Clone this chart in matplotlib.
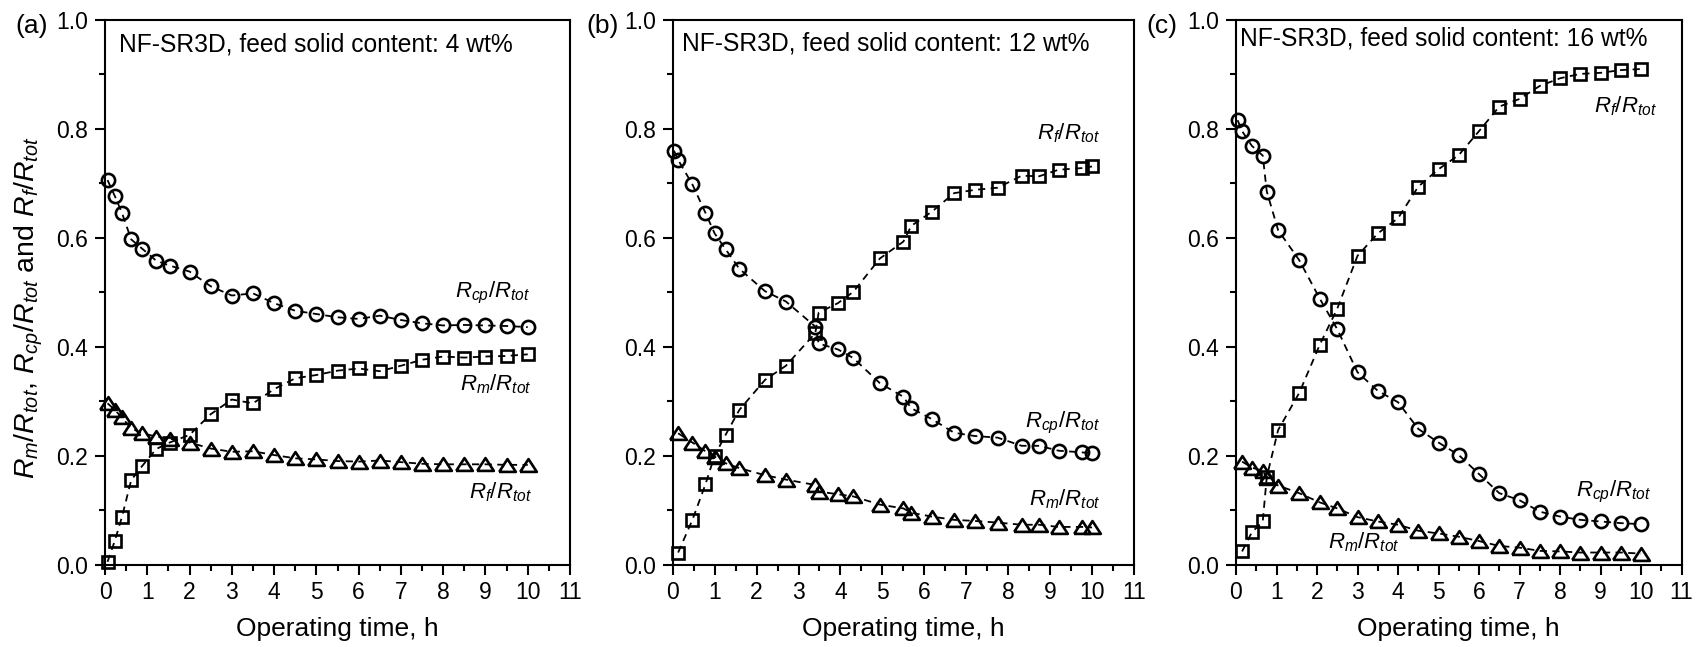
import matplotlib
matplotlib.use("Agg")
import matplotlib.pyplot as plt
from matplotlib.ticker import MultipleLocator

plt.rcParams['font.family'] = ['Liberation Sans', 'DejaVu Sans']
plt.rcParams['mathtext.fontset'] = 'custom'
plt.rcParams['mathtext.it'] = 'Liberation Sans:italic'
plt.rcParams['mathtext.rm'] = 'Liberation Sans'
plt.rcParams['mathtext.sf'] = 'Liberation Sans'

# ---------------- data ----------------
# (a) 4 wt%
ta = [0.06, 0.23, 0.40, 0.62, 0.88, 1.21, 1.53, 2.0, 2.5, 3.0, 3.5, 4.0,
      4.5, 5.0, 5.5, 6.0, 6.5, 7.0, 7.5, 8.0, 8.5, 9.0, 9.5, 10.0]
a_circ = [0.706, 0.677, 0.646, 0.597, 0.580, 0.558, 0.549, 0.538, 0.511, 0.494,
          0.498, 0.480, 0.466, 0.460, 0.454, 0.451, 0.457, 0.449, 0.443, 0.439,
          0.440, 0.439, 0.438, 0.436]
a_sq = [0.005, 0.043, 0.087, 0.155, 0.181, 0.212, 0.224, 0.238, 0.276, 0.303,
        0.296, 0.322, 0.342, 0.348, 0.356, 0.360, 0.355, 0.365, 0.376, 0.382,
        0.380, 0.382, 0.383, 0.386]
a_tri = [0.296, 0.284, 0.270, 0.250, 0.241, 0.235, 0.231, 0.224, 0.213, 0.207,
         0.208, 0.201, 0.195, 0.193, 0.190, 0.189, 0.191, 0.188, 0.185, 0.184,
         0.184, 0.184, 0.183, 0.183]

# (b) 12 wt%
tb = [0.13, 0.47, 0.78, 1.0, 1.26, 1.59, 2.2, 2.7, 3.4, 3.48, 3.94, 4.31,
      4.94, 5.5, 5.69, 6.18, 6.71, 7.2, 7.75, 8.32, 8.74, 9.2, 9.75, 10.0]
tb_circ = [0.03] + tb
b_circ = [0.760, 0.743, 0.698, 0.646, 0.608, 0.579, 0.543, 0.502, 0.483, 0.437,
          0.406, 0.395, 0.379, 0.333, 0.308, 0.287, 0.267, 0.242, 0.236, 0.233,
          0.218, 0.218, 0.209, 0.206, 0.204]
b_sq = [0.022, 0.082, 0.147, 0.200, 0.238, 0.284, 0.339, 0.365, 0.425, 0.4625,
        0.480, 0.501, 0.562, 0.593, 0.622, 0.648, 0.682, 0.688, 0.692, 0.714,
        0.713, 0.725, 0.728, 0.731]
b_tri = [0.241, 0.224, 0.208, 0.198, 0.186, 0.177, 0.164, 0.156, 0.146, 0.134,
         0.129, 0.125, 0.110, 0.103, 0.095, 0.088, 0.082, 0.080, 0.077, 0.073,
         0.073, 0.069, 0.069, 0.068]

# (c) 16 wt%
tc = [0.04, 0.15, 0.39, 0.66, 0.76, 1.04, 1.56, 2.07, 2.5, 3.0, 3.5, 4.0,
      4.5, 5.0, 5.5, 6.0, 6.5, 7.0, 7.5, 8.0, 8.5, 9.0, 9.5, 10.0]
c_circ = [0.816, 0.796, 0.769, 0.751, 0.685, 0.614, 0.559, 0.488, 0.432, 0.353,
          0.319, 0.298, 0.249, 0.224, 0.201, 0.166, 0.131, 0.118, 0.097, 0.088,
          0.082, 0.079, 0.076, 0.074]
c_sq = [0.024, 0.059, 0.079, 0.161, 0.247, 0.315, 0.404, 0.470, 0.567, 0.608,
        0.636, 0.694, 0.726, 0.752, 0.796, 0.841, 0.855, 0.879, 0.893, 0.901,
        0.903, 0.908, 0.910]
c_tri = [0.189, 0.178, 0.172, 0.158, 0.145, 0.131, 0.114, 0.103, 0.087, 0.079,
         0.073, 0.062, 0.057, 0.051, 0.043, 0.034, 0.031, 0.025, 0.024, 0.022,
         0.022, 0.022, 0.020]

titles = ["NF-SR3D, feed solid content: 4 wt%",
          "NF-SR3D, feed solid content: 12 wt%",
          "NF-SR3D, feed solid content: 16 wt%"]
panel_tags = ["(a)", "(b)", "(c)"]
x_ticks = list(range(0, 12))
y_ticks = [0.0, 0.2, 0.4, 0.6, 0.8, 1.0]

LBL_CP = r'$R_{cp}/R_{tot}$'
LBL_M = r'$R_m/R_{tot}$'
LBL_F = r'$R_f/R_{tot}$'

# ---------------- figure ----------------
W, H = 1696, 647
fig = plt.figure(figsize=(W / 100, H / 100), dpi=100)

boxes = [(105, 570), (672.7, 1134), (1236, 1681.6)]
tag_x = [15, 586, 1146]
top_px, bot_px = 20, 564.5

tri = [(-1.3, -1.0), (1.3, -1.0), (0.0, 1.0), (-1.3, -1.0)]
dash = (0, (4, 3))
LFS = 16      # curve label size
TFS = 17.7    # panel heading size

def series(ax, t, y, marker, ms):
    ax.plot(t, y, ls=dash, color='k', lw=1.3, marker=marker, ms=ms,
            mfc='none', mec='k', mew=1.9, clip_on=False, zorder=3)

axes = []
for i, (l, r) in enumerate(boxes):
    ax = fig.add_axes([l / W, (H - bot_px) / H, (r - l) / W, (bot_px - top_px) / H])
    axes.append(ax)
    ax.set_xlim(0, 11)
    ax.set_ylim(0, 1.0)
    ax.set_xticks(x_ticks)
    ax.set_yticks(y_ticks)
    ax.set_yticklabels([f"{v:.1f}" for v in y_ticks])
    ax.xaxis.set_minor_locator(MultipleLocator(0.5))
    ax.yaxis.set_minor_locator(MultipleLocator(0.1))
    ax.tick_params(which='both', direction='out', top=False, right=False,
                   labelsize=16.5, width=1.5)
    ax.tick_params(which='major', length=7, pad=5)
    ax.tick_params(which='minor', length=4)
    for s in ax.spines.values():
        s.set_linewidth(1.5)
    ax.set_xlabel("Operating time, h", fontsize=19, labelpad=9)
    fig.text(tag_x[i] / W, 1 - 26 / H, panel_tags[i], fontsize=19,
             ha='left', va='center')

# panel (a)
ax = axes[0]
series(ax, ta, a_circ, 'o', 9.5)
series(ax, ta, a_sq, 's', 8.5)
series(ax, ta, a_tri, tri, 12)
ax.text(0.031, 0.942, titles[0], transform=ax.transAxes, fontsize=TFS, va='baseline')
ax.text(10.05, 0.49, LBL_CP, fontsize=LFS, ha='right', va='baseline')
ax.text(10.1, 0.319, LBL_M, fontsize=LFS, ha='right', va='baseline')
ax.text(10.1, 0.122, LBL_F, fontsize=LFS, ha='right', va='baseline')

# panel (b)
ax = axes[1]
series(ax, tb_circ, b_circ, 'o', 9.5)
series(ax, tb, b_sq, 's', 8.5)
series(ax, tb, b_tri, tri, 12)
ax.text(0.020, 0.944, titles[1], transform=ax.transAxes, fontsize=TFS, va='baseline')
ax.text(10.2, 0.78, LBL_F, fontsize=LFS, ha='right', va='baseline')
ax.text(10.2, 0.252, LBL_CP, fontsize=LFS, ha='right', va='baseline')
ax.text(10.2, 0.109, LBL_M, fontsize=LFS, ha='right', va='baseline')

# panel (c)
ax = axes[2]
series(ax, tc, c_circ, 'o', 9.5)
series(ax, tc[1:], c_sq, 's', 8.5)
series(ax, tc[1:], c_tri, tri, 12)
ax.text(0.009, 0.954, titles[2], transform=ax.transAxes, fontsize=TFS, va='baseline')
ax.text(10.4, 0.830, LBL_F, fontsize=LFS, ha='right', va='baseline')
ax.text(10.26, 0.1245, LBL_CP, fontsize=LFS, ha='right', va='baseline')
ax.text(2.27, 0.030, LBL_M, fontsize=LFS, ha='left', va='baseline')

# shared y-axis title on the first panel
fig.text(29 / W, 1 - 308 / H,
         r'$R_m/R_{tot}$, $R_{cp}/R_{tot}$ and $R_f/R_{tot}$',
         rotation=90, fontsize=20.5, ha='center', va='center')

fig.savefig("out.png", dpi=100)
